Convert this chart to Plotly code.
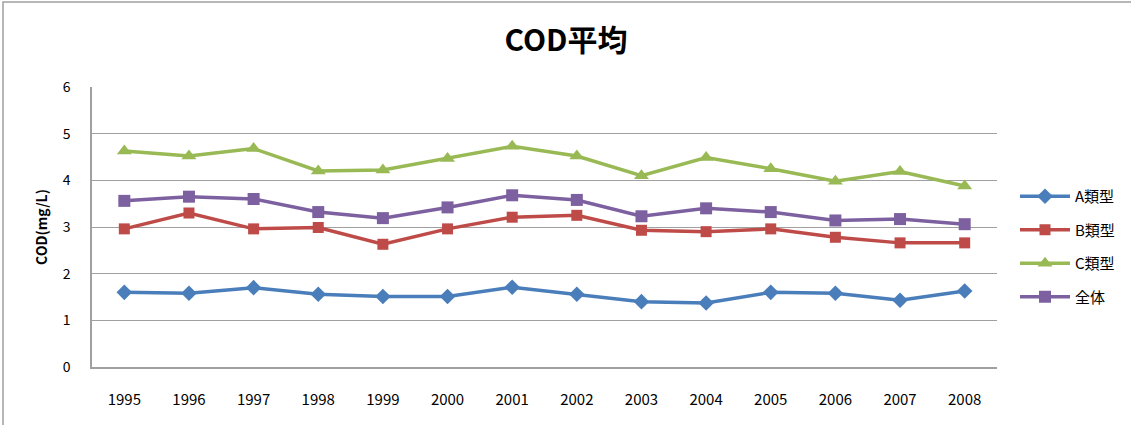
import plotly.graph_objects as go

years = ["1995", "1996", "1997", "1998", "1999", "2000", "2001",
         "2002", "2003", "2004", "2005", "2006", "2007", "2008"]
type_a = [1.60, 1.58, 1.70, 1.56, 1.51, 1.51, 1.71, 1.56, 1.40, 1.37, 1.60, 1.58, 1.43, 1.63]
type_b = [2.96, 3.30, 2.96, 2.99, 2.63, 2.96, 3.21, 3.25, 2.93, 2.90, 2.96, 2.78, 2.66, 2.66]
type_c = [4.63, 4.52, 4.68, 4.20, 4.22, 4.47, 4.73, 4.52, 4.10, 4.49, 4.25, 3.98, 4.19, 3.88]
total = [3.56, 3.65, 3.60, 3.32, 3.19, 3.42, 3.68, 3.58, 3.23, 3.40, 3.32, 3.14, 3.17, 3.06]

series = [
    ("A類型", type_a, "#4A7EBB", "diamond", 12),
    ("B類型", type_b, "#BE4B48", "square", 11),
    ("C類型", type_c, "#98B954", "triangle-up", 13),
    ("全体", total, "#7D60A0", "square", 12),
]

font_main = "Noto Sans CJK JP, Open Sans, sans-serif"

fig = go.Figure()
for i, (name, vals, color, sym, size) in enumerate(series):
    fig.add_trace(go.Scatter(
        x=years, y=vals, name=name, mode="lines+markers",
        legendgroup="g%d" % i,
        line=dict(color=color, width=3.5),
        marker=dict(symbol=sym, size=size, color=color),
    ))

W, H = 1131, 425
L, R, T, B = 92, 134, 87, 58
pw, ph = W - L - R, H - T - B

def px_x(p):
    return (p - L) / pw

def px_y(p):
    return (H - B - p) / ph

fig.add_shape(type="rect", xref="paper", yref="paper",
              x0=px_x(3), x1=px_x(1140), y0=px_y(435), y1=px_y(2),
              line=dict(color="#A0A0A0", width=1.5), fillcolor="rgba(0,0,0,0)")

fig.update_layout(
    width=W, height=H,
    margin=dict(l=L, r=R, t=T, b=B, autoexpand=False),
    paper_bgcolor="white", plot_bgcolor="white",
    font=dict(family=font_main, color="black", size=13),
    title=dict(text="<b>COD平均</b>", x=566 / W, xanchor="center",
               y=1 - 40 / H, yanchor="middle",
               font=dict(size=30, family=font_main, color="black")),
    legend=dict(x=px_x(1015), xanchor="left", y=px_y(180), yanchor="top",
                font=dict(size=15, family=font_main), tracegroupgap=11,
                itemwidth=50, bgcolor="rgba(0,0,0,0)"),
    showlegend=True,
)
fig.update_xaxes(type="category", range=[-0.5, 13.5], showgrid=False,
                 showline=True, linecolor="#A0A0A0", linewidth=1.5,
                 ticks="", tickfont=dict(size=15), ticklabelstandoff=18,
                 automargin=False)
fig.update_yaxes(range=[0, 6], dtick=1, showgrid=True, gridcolor="#A0A0A0",
                 gridwidth=1.3, showline=True, linecolor="#A0A0A0", linewidth=1.5,
                 ticks="", ticklabelstandoff=17,
                 tickfont=dict(size=14), zeroline=False, automargin=False,
                 title=dict(text="<b>COD(mg/L)</b>", font=dict(size=14), standoff=12))

fig.write_html("out.html", config={"displayModeBar": False},
               post_script="document.body.style.margin='0';document.body.style.padding='0';")
